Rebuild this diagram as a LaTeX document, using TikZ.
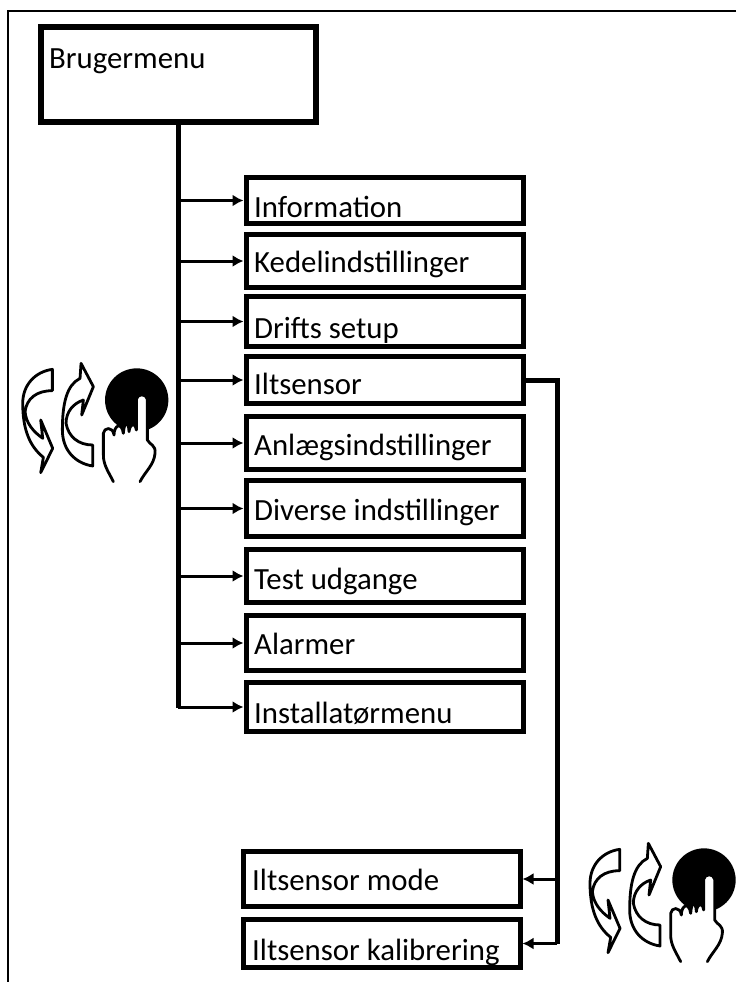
\documentclass[tikz,border=0pt]{standalone}
\usepackage{fontspec}
\setmainfont{Carlito}
\usetikzlibrary{arrows.meta}
\tikzset{
  bigbox/.style={draw=black,line width=6pt,fill=white,anchor=north west,inner sep=0pt},
  menubox/.style={draw=black,line width=5pt,fill=white,anchor=north west,inner sep=0pt,minimum width=277pt},
  lbl/.style={anchor=base west,inner sep=0pt,font=\fontsize{30.8pt}{34pt}\selectfont,text=black},
  trunk/.style={line width=5pt,line cap=butt},
  conn/.style={line width=3pt,-{Latex[length=11pt,width=12pt]}},
  iconline/.style={line width=2.8pt,line join=round,line cap=round,draw=black,fill=white},
  pics/turnhand/.style={code={
    \begin{scope}[x=0.3333pt,y=-0.3333pt,shift={(-410,-180)}]
      % down-going arrow
      \draw[iconline] (157,88) .. controls (105,95) and (68,135) .. (68,190)
        .. controls (68,270) and (90,320) .. (130,352) -- (122,398) -- (158,325) -- (122,240) -- (128,295)
        .. controls (100,275) and (78,250) .. (75,215)
        .. controls (80,175) and (110,152) .. (157,152) -- cycle;
      % up-going arrow
      \draw[iconline] (278,378) .. controls (225,370) and (187,330) .. (187,270)
        .. controls (187,190) and (200,135) .. (240,115) -- (243,70) -- (280,140) -- (245,225) -- (250,180)
        .. controls (220,190) and (198,215) .. (198,250)
        .. controls (205,290) and (235,315) .. (278,315) -- cycle;
      \fill[black] (410,180) circle (95);
      % hand
      \draw[iconline] (340,425) .. controls (325,395) and (310,375) .. (310,345) -- (310,280)
        .. controls (312,262) and (338,258) .. (342,285)
        .. controls (342,255) and (365,245) .. (370,280)
        .. controls (372,245) and (385,240) .. (387,275)
        .. controls (390,250) and (405,245) .. (409,270) -- (409,178)
        .. controls (411,160) and (440,160) .. (442,178) -- (442,300)
        .. controls (450,315) and (468,315) .. (465,340)
        .. controls (462,375) and (435,395) .. (420,425);
    \end{scope}
  }}
}
\begin{document}
\begin{tikzpicture}[x=1pt,y=-1pt]
\useasboundingbox (0,0) rectangle (736,982);
\draw[line width=1.8pt] (736,11) -- (8,11) -- (8,982);

\node[bigbox,minimum width=275pt,minimum height=95pt] (root) at (38,24) {};
\node[lbl] (roott) at (49,68) {Brugermenu};

\node[menubox,minimum height=46pt] (a) at (243.5,175) {};
\node[menubox,minimum height=53pt] (b) at (243.5,232) {};
\node[menubox,minimum height=50pt] (c) at (243.5,294) {};
\node[menubox,minimum height=47pt] (d) at (243.5,354) {};
\node[menubox,minimum height=53pt] (e) at (243.5,414) {};
\node[menubox,minimum height=56pt] (f) at (243.5,478) {};
\node[menubox,minimum height=53pt] (g) at (243.5,547) {};
\node[menubox,minimum height=55pt] (h) at (243.5,613) {};
\node[menubox,minimum height=49pt] (i) at (243.5,680) {};
\node[menubox,minimum height=55pt] (m) at (240.5,849) {};
\node[menubox,minimum height=48pt] (k) at (240.5,917) {};

\node[lbl] (at) at (254,217) {Information};
\node[lbl] (bt) at (254,272.5) {Kedelindstillinger};
\node[lbl] (ct) at (254,338) {Drifts setup};
\node[lbl] (dt) at (254,394.5) {Iltsensor};
\node[lbl] (et) at (254,455) {Anlægsindstillinger};
\node[lbl] (ft) at (254,520) {Diverse indstillinger};
\node[lbl] (gt) at (254,589) {Test udgange};
\node[lbl] (ht) at (254,654) {Alarmer};
\node[lbl] (it) at (254,723) {Installatørmenu};
\node[lbl] (mt) at (252,890) {Iltsensor mode};
\node[lbl] (kt) at (252,960) {Iltsensor kalibrering};

\coordinate (tr) at (178,708);
\draw[trunk] (root.south -| tr) -- (tr);
\foreach \n in {a,b,c,d,e,f,g,h,i}
  \draw[conn] (tr |- \n.west) -- (\n.west);

\coordinate (rt) at (557,944);
\draw[trunk] (d.east) -- (d.east -| rt) -- (rt);
\foreach \n in {m,k}
  \draw[conn] (rt |- \n.east) -- (\n.east);

\pic at (136.7,400) {turnhand};
\pic at (704,880) {turnhand};
\end{tikzpicture}
\end{document}
